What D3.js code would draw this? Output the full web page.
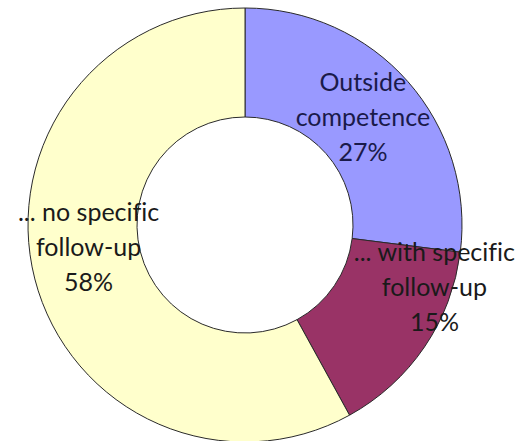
<!DOCTYPE html>
<html>
<head>
<meta charset="utf-8">
<script src="https://cdn.jsdelivr.net/npm/d3@7"></script>
<style>
    body { margin: 0; background: #fff; }
    svg { display: block; }
</style>
</head>
<body>
<script>
'use strict';

// data
const categories = ["Outside competence", "... with specific follow-up", "... no specific follow-up"];
const shares = [27, 15, 58];
const labelLines = [
    ["Outside", "competence", "27%"],
    ["... with specific", "follow-up", "15%"],
    ["... no specific", "follow-up", "58%"]
];
const sliceColors = ["#9999FF", "#993366", "#FFFFCC"];
const textColors = ["#1a1a4a", "#1a1a1a", "#1a1a1a"];

(function () {
    const width = 523, height = 441;
    const cx = 245, cy = 225;
    const outerR = 217, innerR = 108;

    const svg = d3.select("body").append("svg")
        .attr("width", width)
        .attr("height", height);

    const g = svg.append("g")
        .attr("transform", `translate(${cx},${cy})`);

    const pie = d3.pie().sort(null).value(d => d);
    const arcs = pie(shares);

    const arc = d3.arc().innerRadius(innerR).outerRadius(outerR);

    g.selectAll("path")
        .data(arcs)
        .enter()
        .append("path")
        .attr("d", arc)
        .attr("fill", (d, i) => sliceColors[i])
        .attr("stroke", "#2a2a2a")
        .attr("stroke-width", 1);

    // nudge of each label away from the slice centroid
    const nudge = [[-4, 0], [55, -28], [1, -17]];
    const lineH = 35;

    const labels = g.selectAll("text.lbl")
        .data(arcs)
        .enter()
        .append("text")
        .attr("class", "lbl")
        .attr("text-anchor", "middle")
        .style("font-family", "Lato, 'Open Sans', sans-serif")
        .style("font-size", "25px")
        .style("font-variant-ligatures", "none")
        .attr("fill", (d, i) => textColors[i])
        .attr("transform", (d, i) => {
            const c = arc.centroid(d);
            return `translate(${c[0] + nudge[i][0]},${c[1] + nudge[i][1]})`;
        });

    labels.each(function (d, i) {
        const t = d3.select(this);
        const lines = labelLines[i];
        lines.forEach((s, k) => {
            t.append("tspan")
                .attr("x", 0)
                .attr("y", (k - (lines.length - 1) / 2) * lineH + 8)
                .text(s);
        });
    });
})();
</script>
</body>
</html>
